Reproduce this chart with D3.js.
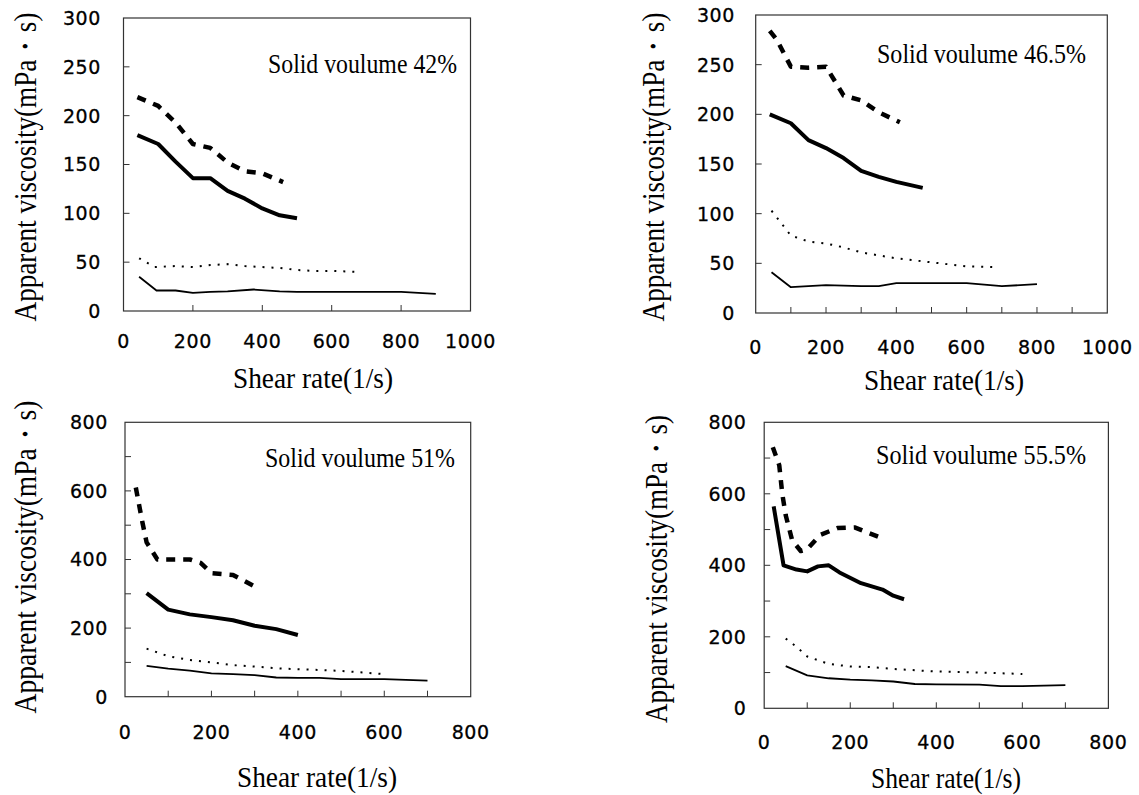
<!DOCTYPE html>
<html>
<head>
<meta charset="utf-8">
<script src="https://cdn.jsdelivr.net/npm/d3@7"></script>
<style>
  html, body { margin: 0; padding: 0; background: #fff; }
  svg { display: block; }
</style>
</head>
<body>
<div id="chart"></div>
<script>
// shear rate (1/s) vs apparent viscosity (mPa·s), four series per solid volume
const v42Dashed = [[40,219],[100,210],[150,193],[200,171],[250,167],[300,152],[350,143],[400,141],[460,132]];
const v42Thick  = [[40,180],[100,171],[150,153],[200,136],[250,136],[300,123],[350,115],[400,105],[450,98],[500,95]];
const v42Dotted = [[45,54],[90,45],[150,46],[200,45],[250,47],[300,48],[350,46],[400,45],[450,44],[500,42],[550,41],[600,41],[680,40]];
const v42Thin   = [[45,35],[95,21],[150,21],[200,18.5],[250,19.5],[300,20],[375,22],[450,20],[500,19.5],[600,19.5],[700,19.5],[800,19.5],[900,17.5]];

const v465Dashed = [[40,284],[60,275],[100,248],[150,247],[200,248],[250,219],[300,214],[350,202],[410,192]];
const v465Thick  = [[40,200],[100,191],[150,174],[200,166],[250,156],[300,143],[350,137],[400,132],[475,126]];
const v465Dotted = [[45,103],[100,78],[150,72],[200,70],[250,66],[300,61],[350,58],[400,55],[500,51],[600,47],[690,46]];
const v465Thin   = [[45,41],[100,26],[200,28],[300,27],[350,27],[400,30],[500,30],[600,30],[700,27],[800,29]];

const v51Dashed = [[25,610],[40,510],[50,450],[75,400],[150,400],[175,390],[200,360],[250,355],[310,315]];
const v51Thick  = [[50,302],[100,254],[150,240],[200,232],[250,223],[300,207],[350,197],[400,180]];
const v51Dotted = [[50,140],[100,118],[150,107],[200,100],[250,92],[300,88],[350,83],[400,80],[450,78],[500,75],[600,66]];
const v51Thin   = [[50,90],[100,82],[150,76],[200,68],[250,66],[300,63],[350,56],[400,55],[450,55],[500,51],[600,51],[700,47]];

const v555Dashed = [[20,730],[35,680],[42,600],[50,540],[65,470],[85,440],[100,445],[130,485],[170,504],[210,506],[265,480]];
const v555Thick  = [[22,565],[45,400],[75,388],[100,383],[125,397],[150,400],[175,380],[225,350],[275,332],[300,315],[325,305]];
const v555Dotted = [[50,195],[75,172],[100,145],[150,124],[200,117],[250,115],[300,110],[400,103],[500,100],[600,96]];
const v555Thin   = [[50,118],[100,92],[150,84],[200,80],[250,78],[300,75],[350,68],[400,67],[500,66],[550,62],[600,62],[700,65]];

const notes = ["Solid voulume 42%", "Solid voulume 46.5%", "Solid voulume 51%", "Solid voulume 55.5%"];
const xTitle = "Shear rate(1/s)";
const yTitle = "Apparent viscosity(mPa\u30FBs)";

// line styles for the four series
const styles = [
  { width: 4.5, dash: "9,8" },
  { width: 4, dash: null },
  { width: 2, dash: "2,7" },
  { width: 1.8, dash: null }
];

// panel geometry (pixels)
const panels = [
  { series: [v42Dashed, v42Thick, v42Dotted, v42Thin], note: notes[0],
    box: [123.5, 470.5, 18, 311], xMax: 1000, xTick: 200, xLab: 200, yMax: 300, yTick: 50, yLab: 50,
    yLabRight: 101, xLabY: 341, xt: [313, 388, 160], yt: [36, 167, 309], nt: [268, 73, 189] },
  { series: [v465Dashed, v465Thick, v465Dotted, v465Thin], note: notes[1],
    box: [755.7, 1107.3, 15, 313], xMax: 1000, xTick: 100, xLab: 200, yMax: 300, yTick: 50, yLab: 50,
    yLabRight: 735, xLabY: 347, xt: [944, 390, 160], yt: [664, 167, 309], nt: [877, 63, 209] },
  { series: [v51Dashed, v51Thick, v51Dotted, v51Thin], note: notes[2],
    box: [125, 470.7, 422.3, 696.7], xMax: 800, xTick: 100, xLab: 200, yMax: 800, yTick: 100, yLab: 200,
    yLabRight: 108, xLabY: 732, xt: [317, 787, 160], yt: [36, 557, 313], nt: [265, 467, 190] },
  { series: [v555Dashed, v555Thick, v555Dotted, v555Thin], note: notes[3],
    box: [764.2, 1108.4, 422.3, 708.3], xMax: 800, xTick: 100, xLab: 200, yMax: 800, yTick: 100, yLab: 200,
    yLabRight: 746.5, xLabY: 742, xt: [946, 788, 150], yt: [667, 569, 308], nt: [876, 464, 210] }
];

const svg = d3.select("#chart").append("svg")
  .attr("width", 1139)
  .attr("height", 795);

const serif = "'Liberation Serif', 'Times New Roman', serif";
const sans = "'DejaVu Sans', Arial, sans-serif";

panels.forEach(p => {
  const [x0, x1, y0, y1] = p.box;
  const x = d3.scaleLinear().domain([0, p.xMax]).range([x0, x1]);
  const y = d3.scaleLinear().domain([0, p.yMax]).range([y1, y0]);
  const g = svg.append("g");

  // frame
  g.append("rect")
    .attr("x", x0).attr("y", y0)
    .attr("width", x1 - x0).attr("height", y1 - y0)
    .attr("fill", "none")
    .attr("stroke", "#333")
    .attr("stroke-width", 1.2);

  // inward ticks
  const xt = d3.range(0, p.xMax + 1, p.xTick).filter(v => v > 0 && v < p.xMax);
  g.selectAll(".xt").data(xt).join("line")
    .attr("x1", d => x(d)).attr("x2", d => x(d))
    .attr("y1", y1).attr("y2", y1 - 6)
    .attr("stroke", "#333").attr("stroke-width", 1);
  const yt = d3.range(0, p.yMax + 1, p.yTick).filter(v => v > 0 && v < p.yMax);
  g.selectAll(".yt").data(yt).join("line")
    .attr("x1", x0).attr("x2", x0 + 6)
    .attr("y1", d => y(d)).attr("y2", d => y(d))
    .attr("stroke", "#333").attr("stroke-width", 1);

  // tick labels
  g.selectAll(".xl").data(d3.range(0, p.xMax + 1, p.xLab)).join("text")
    .attr("x", d => x(d))
    .attr("y", p.xLabY)
    .attr("dy", "0.36em")
    .attr("text-anchor", "middle")
    .style("font-family", sans)
    .style("font-size", "19px")
    .style("letter-spacing", "0.6px")
    .style("stroke", "#000").style("stroke-width", 0.3)
    .text(d => d);
  g.selectAll(".yl").data(d3.range(0, p.yMax + 1, p.yLab)).join("text")
    .attr("x", p.yLabRight)
    .attr("y", d => y(d))
    .attr("dy", "0.36em")
    .attr("text-anchor", "end")
    .style("font-family", sans)
    .style("font-size", "19px")
    .style("letter-spacing", "0.6px")
    .style("stroke", "#000").style("stroke-width", 0.3)
    .text(d => d);

  // series
  const line = d3.line().x(d => x(d[0])).y(d => y(d[1]));
  p.series.forEach((s, i) => {
    g.append("path")
      .datum(s)
      .attr("d", line)
      .attr("fill", "none")
      .attr("stroke", "#000")
      .attr("stroke-width", styles[i].width)
      .attr("stroke-dasharray", styles[i].dash)
      .attr("stroke-linejoin", "round");
  });

  // annotation
  g.append("text")
    .attr("transform", `translate(${p.nt[0]},${p.nt[1]}) scale(1,1.12)`)
    .attr("textLength", p.nt[2])
    .attr("lengthAdjust", "spacingAndGlyphs")
    .style("font-family", serif)
    .style("font-size", "24px")
    .text(p.note);

  // axis titles
  g.append("text")
    .attr("transform", `translate(${p.xt[0] - p.xt[2] / 2},${p.xt[1]}) scale(1,1.1)`)
    .attr("textLength", p.xt[2])
    .attr("lengthAdjust", "spacingAndGlyphs")
    .style("font-family", serif)
    .style("font-size", "27px")
    .text(xTitle);
  g.append("text")
    .attr("transform", `translate(${p.yt[0]},${p.yt[1] + p.yt[2] / 2}) rotate(-90) scale(1,1.2)`)
    .attr("textLength", p.yt[2])
    .attr("lengthAdjust", "spacingAndGlyphs")
    .style("font-family", serif)
    .style("font-size", "26px")
    .text(yTitle);
});
</script>
</body>
</html>
